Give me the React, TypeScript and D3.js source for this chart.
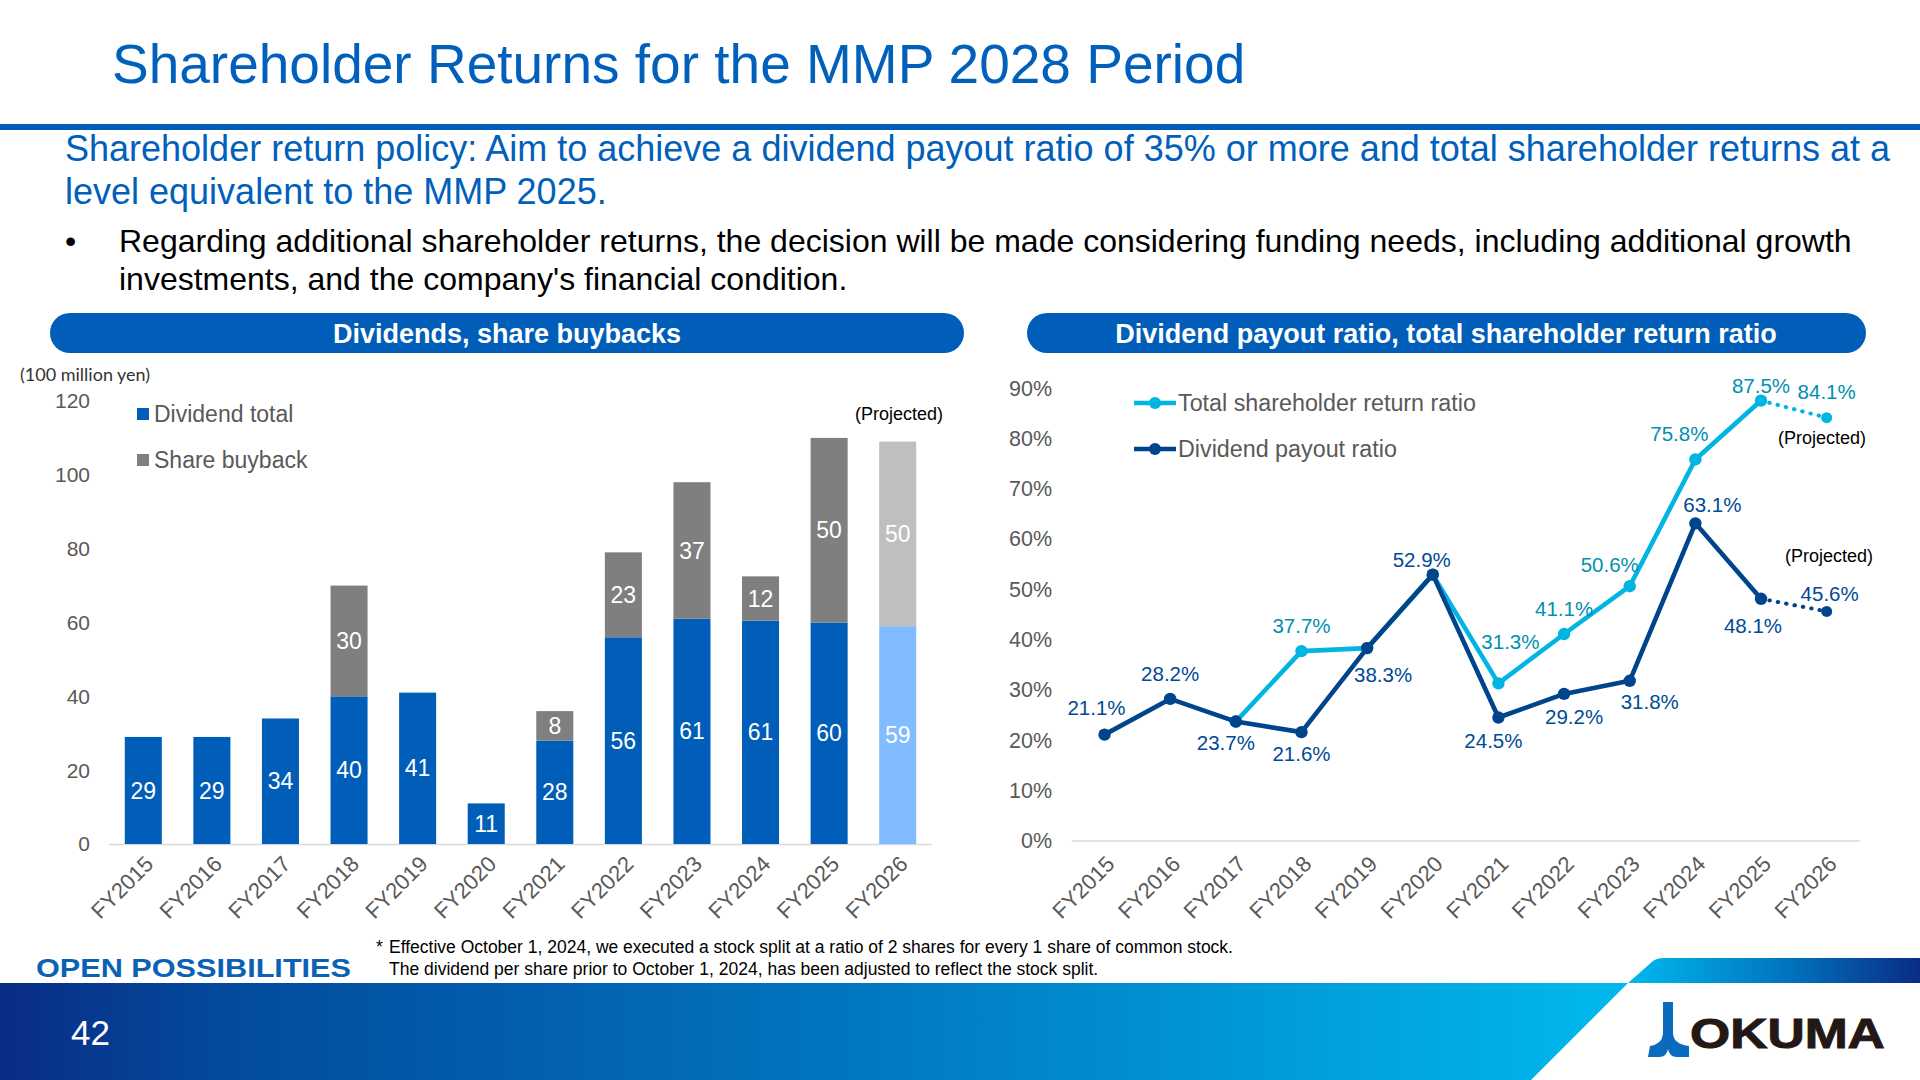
import React from "react";
import * as d3 from "d3";

const barYears = ["FY2015","FY2016","FY2017","FY2018","FY2019","FY2020","FY2021","FY2022","FY2023","FY2024","FY2025","FY2026"];
const dividendTotal = [29,29,34,40,41,11,28,56,61,60.5,60,59];
const shareBuyback = [0,0,0,30,0,0,8,23,37,12,50,50];
const barTicks = [0,20,40,60,80,100,120];
const ratioTicks = [0,10,20,30,40,50,60,70,80,90];
const totalReturnRatio: (number|null)[] = [null,null,23.7,37.7,38.3,52.9,31.3,41.1,50.6,75.8,87.5,84.1];
const payoutRatio = [21.1,28.2,23.7,21.6,38.3,52.9,24.5,29.2,31.8,63.1,48.1,45.6];
const totalLabelled = [false,false,false,true,false,false,true,true,true,true,true,true];

// label placement relative to the point, [dx, dy]
const payoutOffsets = [[-8,-27],[0,-25],[-10,21],[0,22],[16,27],[-11,-15],[-5,23],[10,23],[20,21],[17,-19],[-8,27],[3,-18]];
const totalOffsets = [[0,0],[0,0],[0,0],[0,-25],[0,0],[0,0],[12,-42],[0,-25],[-20,-21],[-16,-26],[0,-15],[0,-26]];

const SANS = "'Liberation Sans', Arial, sans-serif";
const BLUE = "#005EB8";
const GRAY = "#7F7F7F";
const LBLUE = "#80BCFF";
const LGRAY = "#BFBFBF";
const CYAN = "#00B5E2";
const NAVY = "#00458C";
const TEAL = "#0090B0";
const NAVYTXT = "#004A96";
const TICK = "#595959";

const xBar = d3.scaleBand<string>().domain(barYears).range([109,932]).paddingInner(0.46).paddingOuter(0.23);
const yBar = d3.scaleLinear().domain([0,120]).range([844,401]);
const xLine = d3.scalePoint<string>().domain(barYears).range([1071.7,1859.5]).padding(0.5);
const yLine = d3.scaleLinear().domain([0,90]).range([840.8,388]);

const lineGen = d3.line<[number,number]>().x(d=>d[0]).y(d=>d[1]);

function seriesPoints(values:(number|null)[]) {
  return values.map((v,i)=> v==null?null:[xLine(barYears[i])!, yLine(v)] as [number,number]);
}

function RatioSeries({values,color}:{values:(number|null)[];color:string}) {
  const pts = seriesPoints(values);
  const solid = pts.slice(0,11).filter(Boolean) as [number,number][];
  const dotted = pts.slice(10) as [number,number][];
  return <g>
    <path d={lineGen(solid)!} fill="none" stroke={color} strokeWidth={4.6} strokeLinejoin="round"/>
    <path d={lineGen(dotted)!} fill="none" stroke={color} strokeWidth={4} strokeLinecap="round" strokeDasharray="0.5 8"/>
    {pts.map((p,i)=>p && <circle key={i} cx={p[0]} cy={p[1]} r={i===11?5.5:6.2} fill={color}/>)}
  </g>;
}

export default function App() {
  return (
    <svg width={1920} height={1080} viewBox="0 0 1920 1080" style={{position:"absolute",left:0,top:0,display:"block",background:"#fff"}} fontFamily={SANS}>
      <defs>
        <linearGradient id="band" x1="0" x2="1" y1="0" y2="0">
          <stop offset="0" stopColor="#0A2C85"/>
          <stop offset="0.13" stopColor="#03499C"/>
          <stop offset="0.5" stopColor="#0173BE"/>
          <stop offset="1" stopColor="#00B9EF"/>
        </linearGradient>
        <linearGradient id="bandTop" x1="0" x2="1" y1="0" y2="0">
          <stop offset="0" stopColor="#00B9EF"/>
          <stop offset="0.55" stopColor="#0173BE"/>
          <stop offset="1" stopColor="#0A2C85"/>
        </linearGradient>
      </defs>

      {/* header */}
      <text x={112} y={83} fontSize={55} fill="#0060BC">Shareholder Returns for the MMP 2028 Period</text>
      <rect x={0} y={124} width={1920} height={6} fill={BLUE}/>
      <text x={65} y={161} fontSize={36} fill="#0060BC">Shareholder return policy: Aim to achieve a dividend payout ratio of 35% or more and total shareholder returns at a</text>
      <text x={65} y={204} fontSize={36} fill="#0060BC">level equivalent to the MMP 2025.</text>
      <text x={65} y={252} fontSize={32} fill="#000">•</text>
      <text x={119} y={252} fontSize={32} fill="#000">Regarding additional shareholder returns, the decision will be made considering funding needs, including additional growth</text>
      <text x={119} y={290} fontSize={32} fill="#000">investments, and the company's financial condition.</text>

      {/* panel headers */}
      <rect x={50} y={313} width={914} height={40} rx={20} fill={BLUE}/>
      <text x={507} y={343} fontSize={27} fontWeight="bold" fill="#fff" textAnchor="middle">Dividends, share buybacks</text>
      <rect x={1027} y={313} width={839} height={40} rx={20} fill={BLUE}/>
      <text x={1446} y={343} fontSize={27} fontWeight="bold" fill="#fff" textAnchor="middle">Dividend payout ratio, total shareholder return ratio</text>

      {/* bar chart */}
      <text x={20} y={381} fontSize={18} fontFamily="Lato, sans-serif" fill="#333">(100 million yen)</text>
      {barTicks.map(t=>(
        <text key={t} x={90} y={yBar(t)} dy="0.35em" fontSize={21} fill={TICK} textAnchor="end">{t}</text>
      ))}
      <line x1={109} x2={932} y1={844.5} y2={844.5} stroke="#D9D9D9" strokeWidth={1.5}/>
      {barYears.map((yr,i)=>{
        const x = xBar(yr)!; const w = xBar.bandwidth();
        const d = dividendTotal[i]; const b = shareBuyback[i];
        const proj = i===11;
        return <g key={yr}>
          <rect x={x} y={yBar(d)} width={w} height={yBar(0)-yBar(d)} fill={proj?LBLUE:BLUE}/>
          {b>0 && <rect x={x} y={yBar(d+b)} width={w} height={yBar(d)-yBar(d+b)} fill={proj?LGRAY:GRAY}/>}
          <text x={x+w/2} y={yBar(d/2)} dy="0.35em" fontSize={23} fill="#fff" textAnchor="middle">{Math.round(d)}</text>
          {b>0 && <text x={x+w/2} y={yBar(d+b/2)} dy="0.35em" fontSize={23} fill="#fff" textAnchor="middle">{b}</text>}
          <text transform={`translate(${x+w/2+6},860) rotate(-45)`} dy="0.35em" fontSize={22} fill={TICK} textAnchor="end">{yr}</text>
        </g>;
      })}
      <rect x={137} y={408} width={12} height={12} fill={BLUE}/>
      <text x={154} y={414} dy="0.35em" fontSize={23} fill={TICK}>Dividend total</text>
      <rect x={137} y={454} width={12} height={12} fill={GRAY}/>
      <text x={154} y={460} dy="0.35em" fontSize={23} fill={TICK}>Share buyback</text>
      <text x={855} y={414} dy="0.35em" fontSize={18} fill="#000">(Projected)</text>

      {/* line chart */}
      {ratioTicks.map(t=>(
        <text key={t} x={1052} y={yLine(t)} dy="0.35em" fontSize={21.5} fill={TICK} textAnchor="end">{t}%</text>
      ))}
      <line x1={1071.7} x2={1859.5} y1={841} y2={841} stroke="#D9D9D9" strokeWidth={1.5}/>
      {barYears.map(yr=>(
        <text key={yr} transform={`translate(${xLine(yr)!+6},860) rotate(-45)`} dy="0.35em" fontSize={22} fill={TICK} textAnchor="end">{yr}</text>
      ))}
      <RatioSeries values={totalReturnRatio} color={CYAN}/>
      <RatioSeries values={payoutRatio} color={NAVY}/>
      {totalReturnRatio.map((v,i)=> v!=null && totalLabelled[i] && (
        <text key={i} x={xLine(barYears[i])!+totalOffsets[i][0]} y={yLine(v)+totalOffsets[i][1]} dy="0.35em" fontSize={20.5} fill={TEAL} textAnchor="middle">{v.toFixed(1)}%</text>
      ))}
      {payoutRatio.map((v,i)=>(
        <text key={i} x={xLine(barYears[i])!+payoutOffsets[i][0]} y={yLine(v)+payoutOffsets[i][1]} dy="0.35em" fontSize={20.5} fill={NAVYTXT} textAnchor="middle">{v.toFixed(1)}%</text>
      ))}
      <line x1={1134} x2={1176} y1={403} y2={403} stroke={CYAN} strokeWidth={4.6}/>
      <circle cx={1155} cy={403} r={6} fill={CYAN}/>
      <text x={1178} y={403} dy="0.35em" fontSize={23.3} fill={TICK}>Total shareholder return ratio</text>
      <line x1={1134} x2={1176} y1={449} y2={449} stroke={NAVY} strokeWidth={4.6}/>
      <circle cx={1155} cy={449} r={6} fill={NAVY}/>
      <text x={1178} y={449} dy="0.35em" fontSize={23.3} fill={TICK}>Dividend payout ratio</text>
      <text x={1778} y={438} dy="0.35em" fontSize={18} fill="#000">(Projected)</text>
      <text x={1785} y={556} dy="0.35em" fontSize={18} fill="#000">(Projected)</text>

      {/* footer */}
      <text x={36} y={977} fontSize={26} fontWeight="bold" fill="#0A62B5" textLength={315} lengthAdjust="spacingAndGlyphs">OPEN POSSIBILITIES</text>
      <text x={376} y={953} fontSize={17.5} fill="#000">*</text>
      <text x={389} y={953} fontSize={17.5} fill="#000">Effective October 1, 2024, we executed a stock split at a ratio of 2 shares for every 1 share of common stock.</text>
      <text x={389} y={975} fontSize={17.5} fill="#000">The dividend per share prior to October 1, 2024, has been adjusted to reflect the stock split.</text>

      <path d="M0,983 H1628 L1531,1080 H0 Z" fill="url(#band)"/>
      <path d="M1628,983 L1653,961 Q1657,958 1664,958 H1920 V983 Z" fill="url(#bandTop)"/>
      <text x={71} y={1045} fontSize={35} fill="#fff">42</text>

      {/* logo */}
      <path d="M1663,1002 H1673 V1034 Q1674,1044 1689,1046 V1057 H1676 Q1669,1056 1668,1049 Q1667,1056 1660,1057 H1648 L1650,1046 Q1662,1044 1663,1034 Z" fill="#0A6BBE"/>
      <text transform="translate(1690,1048) scale(1.2,1)" fontSize={43} fontWeight="bold" fill="#231815" stroke="#231815" strokeWidth={1}>OKUMA</text>
    </svg>
  );
}
